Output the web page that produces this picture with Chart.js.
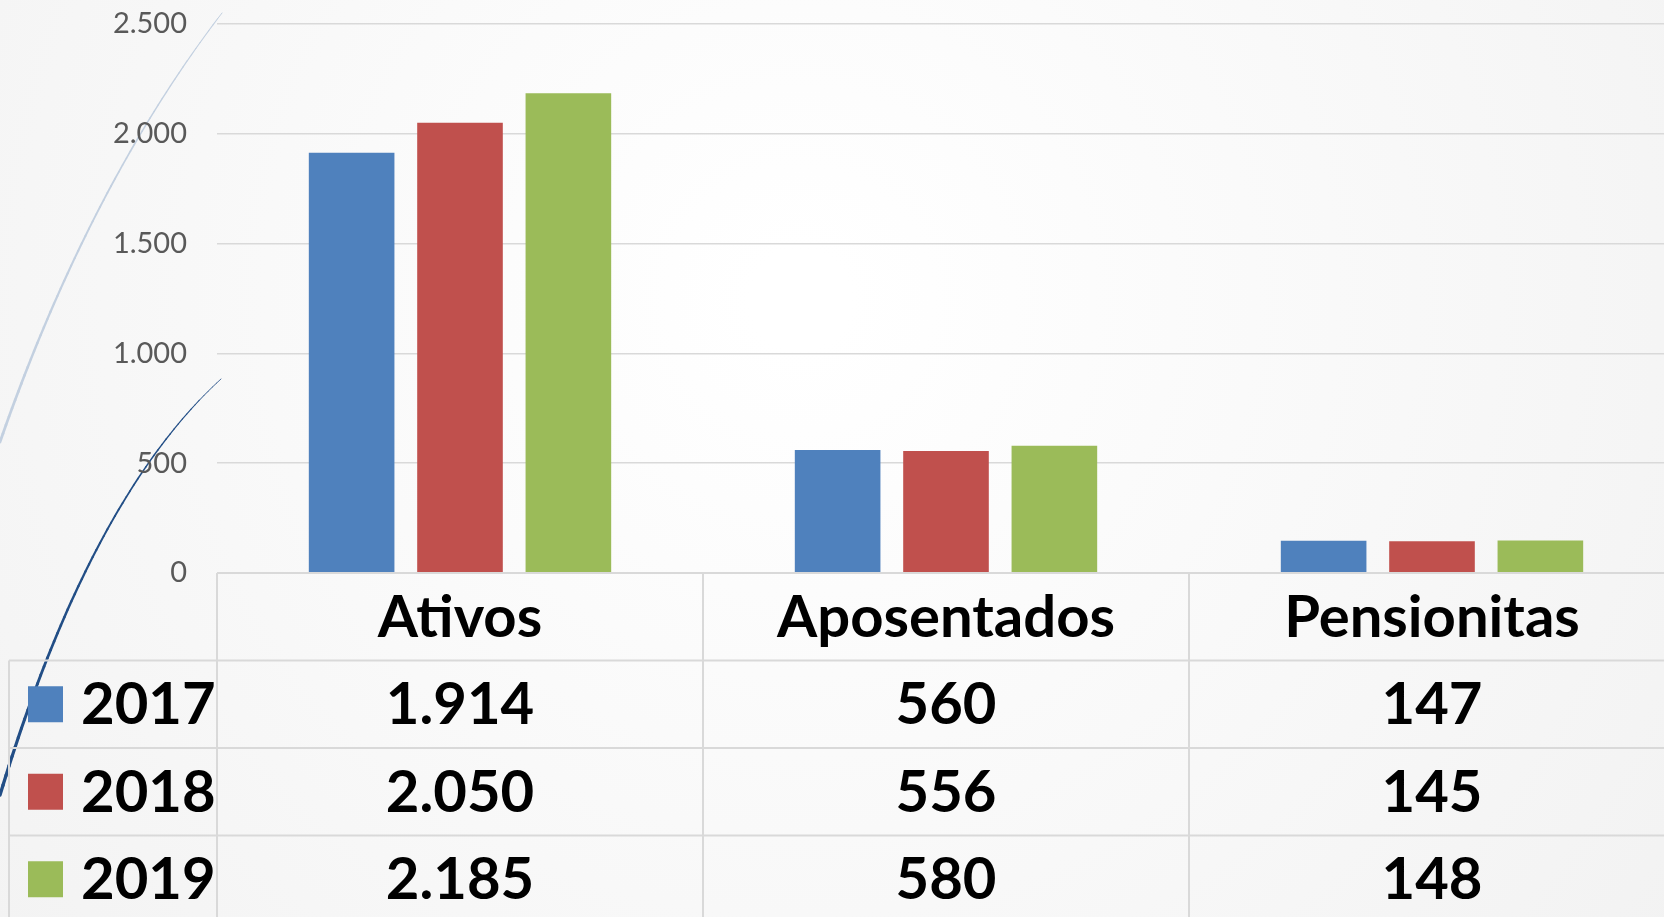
<!DOCTYPE html>
<html><head><meta charset="utf-8">
<script src="https://cdn.jsdelivr.net/npm/chart.js@4.4.1/dist/chart.umd.min.js"></script>
<style>html,body{margin:0;padding:0;background:#f7f7f7;overflow:hidden;width:1664px;height:917px}canvas{display:block}</style>
</head><body>
<canvas id="c" width="1675" height="917"></canvas>
<script>
const categories = ['Ativos', 'Aposentados', 'Pensionitas'];
const seriesNames = ['2017', '2018', '2019'];
const values2017 = [1914, 560, 147];
const values2018 = [2050, 556, 145];
const values2019 = [2185, 580, 148];
const seriesColors = ['#4f81bd', '#c0504d', '#9bbb59'];
const yMin = 0, yMax = 2500, yStep = 500;

const seriesValues = [values2017, values2018, values2019];
const fmt = n => String(n).replace(/\B(?=(\d{3})+(?!\d))/g, '.');

const W = 1675, H = 917;
const ROW_H = 87.5;
const TABLE_FONT = 'bold 58px Lato';

function taperedQuad(ctx, p0, p1, p2, w0, w1, color) {
  ctx.strokeStyle = color;
  ctx.lineCap = 'round';
  const N = 60;
  let prev = p0;
  for (let i = 1; i <= N; i++) {
    const t = i / N, u = 1 - t;
    const pt = [u*u*p0[0] + 2*u*t*p1[0] + t*t*p2[0], u*u*p0[1] + 2*u*t*p1[1] + t*t*p2[1]];
    ctx.lineWidth = w0 + (w1 - w0) * t;
    ctx.beginPath(); ctx.moveTo(prev[0], prev[1]); ctx.lineTo(pt[0], pt[1]); ctx.stroke();
    prev = pt;
  }
}

const bgPlugin = {
  id: 'bg',
  beforeDraw(chart) {
    const ctx = chart.ctx;
    ctx.save();
    const g = ctx.createRadialGradient(800, 300, 50, 800, 300, 1100);
    g.addColorStop(0, '#ffffff');
    g.addColorStop(1, '#f2f2f2');
    ctx.fillStyle = g;
    ctx.fillRect(0, 0, W, H);
    taperedQuad(ctx, [0, 442], [89, 186.5], [222, 13], 2.8, 1.0, '#c3d0e0');
    taperedQuad(ctx, [0, 795], [89.5, 499], [221, 379], 3.4, 0.8, '#224e86');
    ctx.restore();
  }
};

const tablePlugin = {
  id: 'table',
  afterDraw(chart) {
    const ctx = chart.ctx, x = chart.scales.x, area = chart.chartArea;
    const top = area.bottom;
    const leftEdge = 9;
    ctx.save();
    ctx.strokeStyle = '#d9d9d9';
    ctx.lineWidth = 2;
    const line = (x1, y1, x2, y2) => { ctx.beginPath(); ctx.moveTo(x1, y1); ctx.lineTo(x2, y2); ctx.stroke(); };
    line(area.left, top, W, top);
    for (let r = 1; r <= seriesNames.length; r++) line(leftEdge, top + r * ROW_H, W, top + r * ROW_H);
    line(area.left, top, area.left, H);
    for (let i = 0; i < categories.length - 1; i++) {
      const b = (x.getPixelForValue(i) + x.getPixelForValue(i + 1)) / 2;
      line(b, top, b, H);
    }
    line(leftEdge, top + ROW_H, leftEdge, H);

    ctx.fillStyle = '#000';
    ctx.font = TABLE_FONT;
    ctx.textBaseline = 'alphabetic';
    ctx.textAlign = 'center';
    categories.forEach((c, i) => ctx.fillText(c, x.getPixelForValue(i), top + ROW_H / 2 + 20));
    chart.data.datasets.forEach((ds, r) => {
      const cy = top + ROW_H * (r + 1) + ROW_H / 2;
      ctx.fillStyle = ds.backgroundColor;
      ctx.fillRect(28, cy - 18, 35, 36);
      ctx.fillStyle = '#000';
      ctx.textAlign = 'left';
      ctx.fillText(ds.label, 81, cy + 20);
      ctx.textAlign = 'center';
      ds.data.forEach((v, i) => ctx.fillText(fmt(v), x.getPixelForValue(i), cy + 20));
    });
    ctx.restore();
  }
};

new Chart(document.getElementById('c'), {
  type: 'bar',
  data: {
    labels: categories,
    datasets: seriesNames.map((name, k) => ({
      label: name,
      data: seriesValues[k],
      backgroundColor: seriesColors[k],
      categoryPercentage: 0.669,
      barPercentage: 0.79
    }))
  },
  options: {
    responsive: false,
    animation: false,
    devicePixelRatio: 1,
    layout: { padding: { top: 24, right: 0, bottom: 344, left: 0 } },
    plugins: { legend: { display: false }, tooltip: { enabled: false } },
    scales: {
      x: { display: false },
      y: {
        min: yMin, max: yMax,
        ticks: { stepSize: yStep, callback: v => fmt(v), color: '#595959', font: { family: 'Lato', size: 29 }, padding: 0 },
        grid: { color: '#d9d9d9', lineWidth: 1.5, drawTicks: true, tickLength: 30, tickColor: 'rgba(0,0,0,0)' },
        border: { display: false },
        afterFit: s => { s.width = 217; }
      }
    }
  },
  plugins: [bgPlugin, tablePlugin]
});
</script>
</body></html>
